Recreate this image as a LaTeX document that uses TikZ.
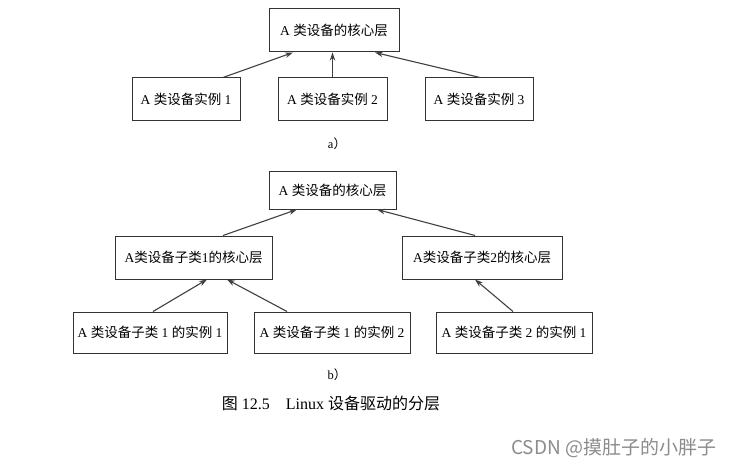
\documentclass[tikz,border=0pt]{standalone}
\usepackage{fontspec}
\setmainfont{Liberation Serif}
\newfontfamily\cjkfont{Noto Sans CJK SC}
\newcommand{\zh}[1]{{\cjkfont #1}}
\usetikzlibrary{arrows.meta,calc}
\tikzset{
  box/.style={draw=black!80, line width=1pt, fill=white, inner sep=0pt, minimum height=43pt, font=\fontsize{13.5}{15}\selectfont},
  conn/.style={draw=black!75, line width=1.1pt, -{Stealth[length=8pt,width=5.5pt]}},
  lbl/.style={font=\fontsize{12.5}{14}\selectfont, inner sep=0pt}
}
\begin{document}
\begin{tikzpicture}[x=1pt,y=-1pt]
\fill[white] (0,0) rectangle (736,468);
\useasboundingbox (0,0) rectangle (736,468);
% (a)
\node[box, minimum width=130pt] (atop) at (334,30.5) {A \zh{类设备的核心层}};
\node[box, minimum width=108pt] (a1) at (186,99.5) {A \zh{类设备实例} 1};
\node[box, minimum width=109pt] (a2) at (332.5,99.5) {A \zh{类设备实例} 2};
\node[box, minimum width=108pt] (a3) at (479,99.5) {A \zh{类设备实例} 3};
\draw[conn] ($(a1.north)+(37,0)$) -- ($(atop.south)+(-41,0)$);
\draw[conn] (a2.north) -- (a2.north |- atop.south);
\draw[conn] ($(a3.north)+(1,0)$) -- ($(atop.south)+(41,0)$);
\node[lbl] (la) at (337,144) {a\zh{）}};
% (b)
\node[box, minimum width=127pt, minimum height=38pt] (btop) at (332.5,190) {A \zh{类设备的核心层}};
\node[box, minimum width=157pt] (s1) at (193.5,257.5) {A\zh{类设备子类}1\zh{的核心层}};
\node[box, minimum width=160pt] (s2) at (482,257.5) {A\zh{类设备子类}2\zh{的核心层}};
\node[box, minimum width=154pt, minimum height=41pt] (b1) at (150,332.5) {A \zh{类设备子类} 1 \zh{的实例} 1};
\node[box, minimum width=156pt, minimum height=41pt] (b2) at (332,332.5) {A \zh{类设备子类} 1 \zh{的实例} 2};
\node[box, minimum width=156pt, minimum height=41pt] (b3) at (514,332.5) {A \zh{类设备子类} 2 \zh{的实例} 1};
\draw[conn] ($(s1.north)+(29.5,0)$) -- ($(btop.south)+(-35.5,0)$);
\draw[conn] ($(s2.north)+(-7,0)$) -- ($(btop.south)+(44.5,0)$);
\draw[conn] ($(b1.north)+(3,0)$) -- ($(s1.south)+(13.5,0)$);
\draw[conn] ($(b2.north)+(-45,0)$) -- ($(s1.south)+(33.5,0)$);
\draw[conn] ($(b3.north)+(-1,0)$) -- ($(s2.south)+(-7,0)$);
\node[lbl] (lb) at (337,375) {b\zh{）}};
\node[lbl, font=\fontsize{16}{18}\selectfont] (cap) at (331,403) {\zh{图} 12.5\quad Linux \zh{设备驱动的分层}};
% watermark
\node[anchor=west, inner sep=0pt, text=black!45, font=\cjkfont\fontsize{19}{21}\selectfont] (wm) at (511,448) {CSDN @摸肚子的小胖子};
\end{tikzpicture}
\end{document}
